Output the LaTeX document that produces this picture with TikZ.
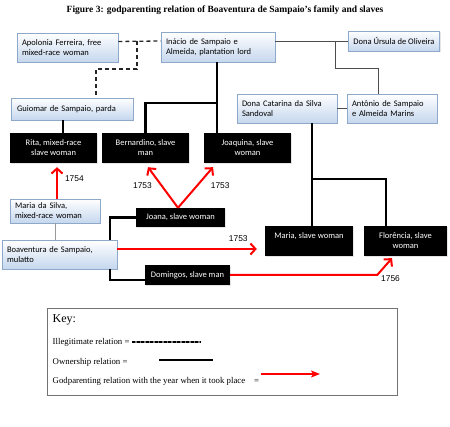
\documentclass[tikz,border=0pt]{standalone}
\usepackage{fontspec}
\setmainfont{Liberation Serif}
\newfontfamily\boxfont{Carlito}
\newfontfamily\yearfont{Liberation Sans}
\usetikzlibrary{positioning,calc,shadows,arrows.meta}

\definecolor{boxline}{HTML}{8DA8C8}
\definecolor{boxfill}{HTML}{C5D7EE}
\definecolor{kinline}{HTML}{4D4D4D}
\definecolor{godred}{HTML}{FF0000}

\tikzset{
  person/.style={draw=boxline, line width=0.8pt, top color=white, bottom color=boxfill,
    drop shadow={shadow xshift=1pt, shadow yshift=-1.5pt, fill=black!20},
    font=\boxfont\fontsize{8.5}{10}\selectfont, align=left, inner xsep=5pt, inner ysep=0pt,
    minimum height=29pt},
  slave/.style={fill=black, text=white, align=center, inner sep=0pt, minimum height=30pt,
    drop shadow={shadow xshift=1pt, shadow yshift=-1.5pt, fill=black!20},
    font=\boxfont\fontsize{8.5}{10}\selectfont},
  own/.style={line width=2.5pt, black},
  kin/.style={line width=0.8pt, kinline},
  illegit/.style={line width=1.3pt, black!85, dash pattern=on 4pt off 3pt},
  god/.style={line width=2pt, godred, -{Straight Barb[length=5pt, width=11pt]}},
  year/.style={font=\yearfont\fontsize{8.4}{9}\selectfont, text=black, inner sep=1pt},
  keytext/.style={font=\fontsize{8.8}{10}\selectfont, anchor=west, inner sep=1.5pt}
}

\begin{document}
\begin{tikzpicture}[x=1pt, y=-1pt]
    \useasboundingbox (0,0) rectangle (450,427);
    \node[font=\bfseries\fontsize{9.5}{11}\selectfont] (title) at (225,10) {Figure 3: godparenting relation of Boaventura de Sampaio’s family and slaves};

    % free people
    \node[person, text width=91pt] (apolonia) at (67.5,47.5) {Apolonia Ferreira, free\\mixed-race woman};
    \node[person, text width=104pt, minimum height=30pt] (inacio) at (218,47) {Inácio de Sampaio e\\Almeida, plantation lord};
    \node[person, minimum width=86pt, minimum height=20pt] (ursula) at (394,41) {Dona Úrsula de Oliveira};
    \node[person, text width=110pt, minimum height=22pt, inner xsep=6pt] (guiomar) at (72,109) {Guiomar de Sampaio, parda};
    \node[person, text width=90pt] (catarina) at (287,108.5) {Dona Catarina da Silva\\Sandoval};
    \node[person, text width=80pt] (antonio) at (392,108.5) {Antônio de Sampaio\\e Almeida Marins};
    \node[person, text width=80pt, minimum height=24pt] (mariasilva) at (55,211) {Maria da Silva,\\mixed-race woman};
    \node[person, text width=105pt] (boaventura) at (59.5,254.5) {Boaventura de Sampaio,\\mulatto};

    % slaves
    \node[slave, minimum width=87pt] (rita) at (53.5,148) {Rita, mixed-race\\slave woman};
    \node[slave, minimum width=87pt] (bernardino) at (145.5,148) {Bernardino, slave\\man};
    \node[slave, minimum width=87pt] (joaquina) at (247.5,148) {Joaquina, slave\\woman};
    \node[slave, minimum width=89pt, minimum height=19pt] (joana) at (180.5,217.5) {Joana, slave woman};
    \node[slave, minimum width=85pt, minimum height=20pt] (domingos) at (187.5,275) {Domingos, slave man};
    \node[slave, minimum width=88pt, text depth=10pt] (mariaslave) at (309,241) {Maria, slave woman};
    \node[slave, minimum width=83pt] (florencia) at (405.5,241) {Florência, slave\\woman};

    % illegitimate relation
    \draw[illegit] ([yshift=6pt]apolonia.east) -- ([yshift=6pt]inacio.west);
    \draw[illegit] (137,41) -- (137,69) -| ([xshift=24pt]guiomar.north);

    % family
    \draw[kin] ([yshift=6pt]inacio.east) -- (ursula.west);
    \draw[kin] (335,41) -- (335,68) -| ([xshift=-14pt]antonio.north);
    \draw[kin] (catarina.east) -- (antonio.west);
    \draw[kin, black!40] (mariasilva.south) -- (mariasilva.south |- boaventura.north);

    % ownership
    \draw[own] ([xshift=-9pt]guiomar.south) -- ([xshift=9.5pt]rita.north);
    \draw[own] ([xshift=-1pt]inacio.south) -- ([xshift=-30.5pt]joaquina.north);
    \draw[own] (217,103) -| (bernardino.north);
    \draw[own] ([xshift=25pt]catarina.south) -- ([xshift=3pt]mariaslave.north);
    \draw[own] (312,179) -| ([xshift=-19.5pt]florencia.north);
    \draw[own] (joana.west) -| ([xshift=50.5pt]boaventura.north);
    \draw[own] ([xshift=50.5pt]boaventura.south) |- ([yshift=-5pt]domingos.west);

    % godparenting
    \draw[god] ([xshift=2pt]mariasilva.north) -- ([xshift=3.5pt,yshift=-4pt]rita.south) node[year, pos=0.65, right=6pt] {1754};
    \draw[god] ([xshift=-2.5pt]joana.north) -- ([xshift=2.5pt,yshift=-4pt]bernardino.south) node[year, pos=0.54, left=8pt] {1753};
    \draw[god] ([xshift=-2.5pt]joana.north) -- ([xshift=-34.5pt,yshift=-4pt]joaquina.south) node[year, pos=0.54, right=12pt] {1753};
    \coordinate (bv) at ([yshift=5.5pt]boaventura.east);
    \draw[god, shorten >=8pt] (bv) -- (bv -| mariaslave.west) node[year, pos=0.82, above=5pt] {1753};
    \draw[god] (domingos.east) -- ++(147,0) node[year, anchor=west, xshift=2pt, yshift=-4pt] {1756} -- ([xshift=-13.5pt,yshift=-2pt]florencia.south);

    % key
    \node[draw=black!55, line width=0.8pt, minimum width=350pt, minimum height=87pt, inner sep=0pt] (key) at (222,351.5) {};
    \node[keytext, font=\fontsize{12}{13}\selectfont] (keyhead) at (51,320) {Key:};
    \node[keytext] (keyillegit) at (51,342) {Illegitimate relation =};
    \node[keytext] (keyown) at (51,362) {Ownership relation =};
    \node[keytext] (keygod) at (51,381) {Godparenting relation with the year when it took place\quad=};
    \draw[gray, line width=2.6pt] (132,342) -- (200,342);
    \draw[black, line width=1.2pt, dash pattern=on 3pt off 1.5pt] (132,342) -- (200,342);
    \draw[own] (159,360) -- (213,360);
    \draw[godred, line width=1.2pt, -{Stealth[length=9pt, width=7pt, inset=2pt]}] (261,374) -- (320,374);
\end{tikzpicture}
\end{document}
